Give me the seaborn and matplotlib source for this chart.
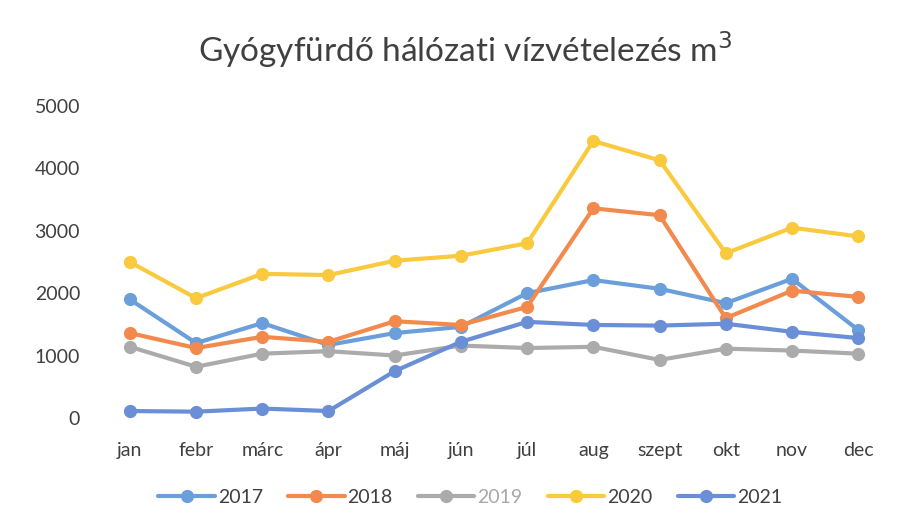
import pandas as pd
import numpy as np
import matplotlib.pyplot as plt
import seaborn as sns

honapok = ['jan', 'febr', 'márc', 'ápr', 'máj', 'jún', 'júl', 'aug', 'szept', 'okt', 'nov', 'dec']
evek = ['2017', '2018', '2019', '2020', '2021']

v2017 = [1900, 1200, 1520, 1170, 1360, 1460, 2000, 2210, 2070, 1840, 2230, 1410]
v2018 = [1360, 1120, 1300, 1220, 1550, 1490, 1780, 3360, 3250, 1600, 2040, 1940]
v2019 = [1140, 820, 1030, 1070, 1000, 1160, 1120, 1140, 930, 1110, 1080, 1030]
v2020 = [2500, 1920, 2310, 2290, 2520, 2600, 2800, 4440, 4130, 2640, 3050, 2910]
v2021 = [110, 100, 150, 110, 750, 1220, 1540, 1490, 1480, 1510, 1380, 1280]

szinek = ['#6A9FDB', '#F28A4E', '#ABABAB', '#F9C93E', '#6A8FD6']

df = pd.DataFrame({
    'HONAP': honapok * 5,
    'EV': np.repeat(evek, 12),
    'ERTEK': v2017 + v2018 + v2019 + v2020 + v2021,
})

sns.set_theme(style='white')
plt.rcParams['font.family'] = ['Lato', 'DejaVu Sans']

fig = plt.figure(figsize=(9.04, 5.25), dpi=100)
ax = fig.add_axes([0.107, 0.204, 0.879, 0.594])
sns.lineplot(data=df, x='HONAP', y='ERTEK', hue='EV', palette=szinek, sort=False,
             marker='o', markersize=9.5, markeredgewidth=0, linewidth=3, ax=ax)

ax.set_xlim(-0.5, 11.5)
ax.set_ylim(0, 5000)
ax.set_yticks(range(0, 5001, 1000))
ax.set_xlabel('')
ax.set_ylabel('')
ax.tick_params(axis='both', labelsize=14, colors='#404040', length=0)
ax.tick_params(axis='y', pad=12)
ax.tick_params(axis='x', pad=17)
for s in ax.spines.values():
    s.set_visible(False)

fig.suptitle('Gyógyfürdő hálózati vízvételezés m$^3$', fontsize=24, color='#404040',
             x=0.515, y=0.945)

leg = ax.legend(loc='center', bbox_to_anchor=(0.47, -0.255), ncol=5, frameon=False,
                fontsize=14, handlelength=2.9, handletextpad=0.15, columnspacing=1.3)
for t in leg.get_texts():
    t.set_color('#404040')
leg.get_texts()[2].set_color('#A8A8A8')

plt.savefig('out.png', dpi=100)
plt.close()
